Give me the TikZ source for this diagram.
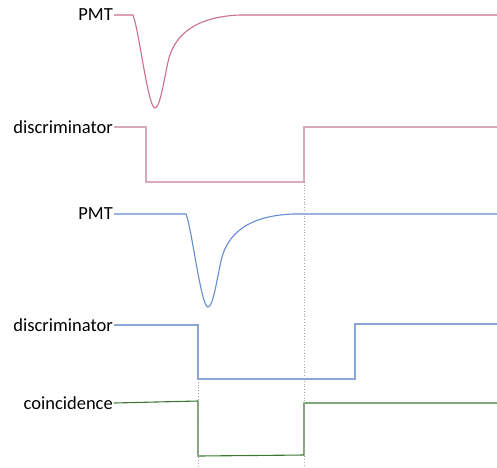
\documentclass[tikz,border=0pt]{standalone}
\usepackage{fontspec}
\setmainfont{Carlito}
\definecolor{pmtred}{RGB}{205,110,140}
\definecolor{discred}{RGB}{215,170,188}
\definecolor{pmtblue}{RGB}{100,140,210}
\definecolor{discblue}{RGB}{140,165,215}
\definecolor{coingreen}{RGB}{60,120,50}
\tikzset{
  lbl/.style={anchor=east,inner sep=1pt,font=\fontsize{18.5}{20}\selectfont},
  sig/.style={line width=1.1pt},
  guide/.style={gray!70,dotted,line width=0.8pt}
}
\begin{document}
\begin{tikzpicture}[x=1pt,y=-1pt]
\useasboundingbox (0,0) rectangle (497,467);
% labels
\node[lbl] (l1) at (114,15) {PMT};
\node[lbl] (l2) at (114,127) {discriminator};
\node[lbl] (l3) at (114,214) {PMT};
\node[lbl] (l4) at (114,325) {discriminator};
\node[lbl] (l5) at (114,403) {coincidence};
% top PMT pulse
\draw[sig,pmtred] (l1.east) -- (133,15)
  .. controls (139,30) and (148,108) .. (155,108)
  .. controls (160,108) and (164,80) .. (168,62)
  .. controls (172,44) and (185,17) .. (240,15)
  -- (497,15);
% top discriminator
\coordinate (d1a) at (146,127);
\coordinate (d1b) at (146,182);
\coordinate (d1c) at (304,182);
\coordinate (d1d) at (304,127);
\coordinate (d1e) at (497,127);
\draw[sig,discred] (l2.east) -- (d1a) -- (d1b) -- (d1c) -- (d1d) -- (d1e);
% second PMT pulse
\draw[sig,pmtblue] (l3.east) -- (186,214)
  .. controls (192,229) and (201,307) .. (208,307)
  .. controls (213,307) and (217,279) .. (221,261)
  .. controls (225,243) and (238,216) .. (293,214)
  -- (497,214);
% second discriminator
\coordinate (d2a) at (198,325);
\coordinate (d2b) at (198,379);
\coordinate (d2c) at (355,379);
\coordinate (d2d) at (355,324);
\coordinate (d2e) at (497,324);
\draw[sig,discblue] (l4.east) -- (d2a) -- (d2b) -- (d2c) -- (d2d) -- (d2e);
% coincidence
\coordinate (c1) at (198,401);
\coordinate (c2) at (198,456);
\coordinate (c3) at (304,455);
\coordinate (c4) at (304,403);
\coordinate (c5) at (497,403);
\draw[sig,coingreen] (l5.east) -- (c1) -- (c2) -- (c3) -- (c4) -- (c5);
% guides
\coordinate (g1) at (304,467);
\coordinate (g2) at (198,467);
\draw[guide] (d1c) -- (g1);
\draw[guide] (d2b) -- (g2);
\end{tikzpicture}
\end{document}
